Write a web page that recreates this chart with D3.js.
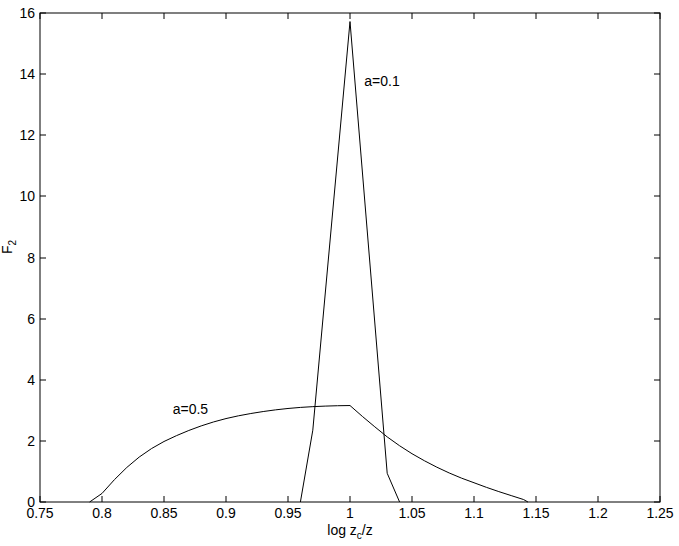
<!DOCTYPE html>
<html>
<head>
<meta charset="utf-8">
<script src="https://cdn.jsdelivr.net/npm/d3@7"></script>
<style>
  html, body { margin: 0; padding: 0; background: #fff; }
  text { font-family: "Liberation Sans", Arial, Helvetica, sans-serif; }
</style>
</head>
<body>
<svg id="chart" width="679" height="546"></svg>
<script>
// ---- data ----
const xA01 = [0.96, 0.97, 1.00, 1.03, 1.04];
const yA01 = [0, 2.35, 15.72, 0.94, 0];

const xA05 = [0.79, 0.80, 0.81, 0.82, 0.83, 0.84, 0.85, 0.86, 0.87, 0.88, 0.89, 0.90, 0.91, 0.92, 0.93, 0.94, 0.95,
              0.96, 0.97, 0.98, 0.99, 1.00,
              1.01, 1.02, 1.03, 1.04, 1.05, 1.06, 1.07, 1.08, 1.09, 1.10, 1.11, 1.12, 1.13, 1.14, 1.1435];
const yA05 = [0, 0.28, 0.73, 1.13, 1.47, 1.75, 1.98, 2.17, 2.34, 2.49, 2.62, 2.73, 2.82, 2.895, 2.96, 3.015, 3.06,
              3.095, 3.12, 3.138, 3.15, 3.156,
              2.80, 2.46, 2.13, 1.84, 1.58, 1.35, 1.14, 0.95, 0.78, 0.63, 0.48, 0.34, 0.21, 0.08, 0];

const xTicks = [0.75, 0.8, 0.85, 0.9, 0.95, 1, 1.05, 1.1, 1.15, 1.2, 1.25];
const xTickLabels = ["0.75", "0.8", "0.85", "0.9", "0.95", "1", "1.05", "1.1", "1.15", "1.2", "1.25"];
const yTicks = [0, 2, 4, 6, 8, 10, 12, 14, 16];
const yTickLabels = ["0", "2", "4", "6", "8", "10", "12", "14", "16"];

const labels = [
  { text: "a=0.1", x: 1.0115, y: 13.6 },
  { text: "a=0.5", x: 0.857, y: 2.88 }
];

// ---- layout ----
const L = 40, R = 660, T = 13, B = 502;
const svg = d3.select("#chart");
const x = d3.scaleLinear().domain([0.75, 1.25]).range([L, R]);
const y = d3.scaleLinear().domain([0, 16]).range([B, T]);
const tickLen = 6;
const fs = 14;

// axes box
const g = svg.append("g");
g.append("rect").attr("x", L).attr("y", T).attr("width", R - L).attr("height", B - T)
  .attr("fill", "none").attr("stroke", "#000").attr("stroke-width", 1);

// x ticks
xTicks.forEach((v, i) => {
  const px = Math.round(x(v));
  g.append("line").attr("x1", px).attr("x2", px).attr("y1", B).attr("y2", B - tickLen).attr("stroke", "#000");
  g.append("line").attr("x1", px).attr("x2", px).attr("y1", T).attr("y2", T + tickLen).attr("stroke", "#000");
  g.append("text").attr("x", px).attr("y", 518).attr("text-anchor", "middle")
    .attr("font-size", fs).attr("fill", "#000").text(xTickLabels[i]);
});
// y ticks
yTicks.forEach((v, i) => {
  const py = Math.round(y(v));
  g.append("line").attr("x1", L).attr("x2", L + tickLen).attr("y1", py).attr("y2", py).attr("stroke", "#000");
  g.append("line").attr("x1", R).attr("x2", R - tickLen).attr("y1", py).attr("y2", py).attr("stroke", "#000");
  g.append("text").attr("x", 35).attr("y", py + 5).attr("text-anchor", "end")
    .attr("font-size", fs).attr("fill", "#000").text(yTickLabels[i]);
});

// curves
const line = d3.line().x(d => x(d[0])).y(d => y(d[1]));
svg.append("path").datum(xA01.map((v, i) => [v, yA01[i]]))
  .attr("d", line).attr("fill", "none").attr("stroke", "#000").attr("stroke-width", 1);
svg.append("path").datum(xA05.map((v, i) => [v, yA05[i]]))
  .attr("d", line).attr("fill", "none").attr("stroke", "#000").attr("stroke-width", 1);

// annotations
labels.forEach(l => {
  svg.append("text").attr("x", x(l.x)).attr("y", y(l.y)).attr("font-size", fs)
    .attr("fill", "#000").text(l.text);
});

// x label: log z_c/z
const xl = svg.append("text").attr("x", 350).attr("y", 535).attr("text-anchor", "middle")
  .attr("font-size", fs).attr("fill", "#000");
xl.append("tspan").text("log z");
xl.append("tspan").attr("font-size", 10).attr("dy", 4).text("c");
xl.append("tspan").attr("dy", -4).text("/z");

// y label: F_2
const yl = svg.append("text").attr("transform", "translate(12,247) rotate(-90)")
  .attr("text-anchor", "middle").attr("font-size", fs).attr("fill", "#000");
yl.append("tspan").text("F");
yl.append("tspan").attr("font-size", 10).attr("dy", 4).text("2");
</script>
</body>
</html>
